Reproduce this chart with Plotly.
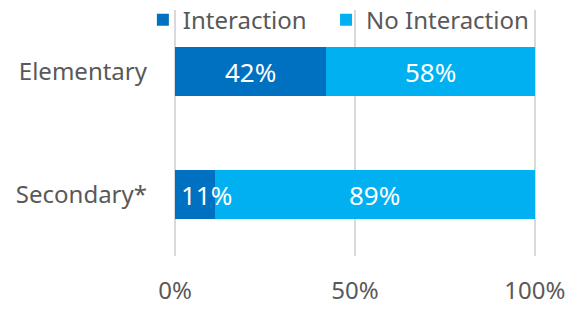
import plotly.graph_objects as go

categories = ["Elementary", "Secondary*"]
series_names = ["Interaction", "No Interaction"]
interaction = [42, 11]
no_interaction = [58, 89]
tick_vals = [0, 50, 100]
tick_text = ["0%", "50%", "100%"]

colors = ["#0070C0", "#00B0F0"]
font_family = "Noto Sans"
fs = 24
label_fs = 26

fig = go.Figure()
for k, (name, vals, col) in enumerate(zip(series_names, [interaction, no_interaction], colors)):
    fig.add_trace(go.Bar(
        y=categories, x=vals, name=name, orientation="h",
        marker=dict(color=col, line=dict(width=0)),
        hoverinfo="skip",
        legend="legend" if k == 0 else "legend2",
    ))

annotations = []
for i, cat in enumerate(categories):
    start = 0
    for vals in [interaction, no_interaction]:
        v = vals[i]
        if v >= 20:
            annotations.append(dict(x=start + v / 2, y=cat, text=f"{v}%", showarrow=False,
                                    xanchor="center", font=dict(color="white", size=label_fs, family=font_family)))
        else:
            annotations.append(dict(x=start, y=cat, text=f"{v}%", showarrow=False, xshift=4,
                                    xanchor="left", font=dict(color="white", size=label_fs, family=font_family)))
        start += v

legend_common = dict(orientation="h", xanchor="left", y=1.05, yanchor="top",
                     bgcolor="rgba(0,0,0,0)", font=dict(size=fs, color="#595959"),
                     itemwidth=30)

fig.update_layout(
    width=575, height=309,
    margin=dict(l=174, r=39, t=10, b=53, autoexpand=False),
    barmode="stack", bargap=0.6,
    plot_bgcolor="white", paper_bgcolor="white",
    font=dict(family=font_family, size=fs, color="#595959"),
    showlegend=True,
    legend=dict(x=-0.086, **legend_common),
    legend2=dict(x=0.42, **legend_common),
    annotations=annotations,
    xaxis=dict(range=[-0.3, 100.3], tickvals=tick_vals, ticktext=tick_text,
               showgrid=True, gridcolor="#D9D9D9", gridwidth=1.5,
               zeroline=False, showline=False, ticks="", ticklabelstandoff=18,
               fixedrange=True, automargin=False),
    yaxis=dict(autorange="reversed", showgrid=False, zeroline=False, showline=False,
               ticks="", ticklabelstandoff=26, fixedrange=True, automargin=False),
)

fig.write_html("out.html", config={"displayModeBar": False},
               post_script="document.body.style.margin='0';document.body.style.overflow='hidden';")
